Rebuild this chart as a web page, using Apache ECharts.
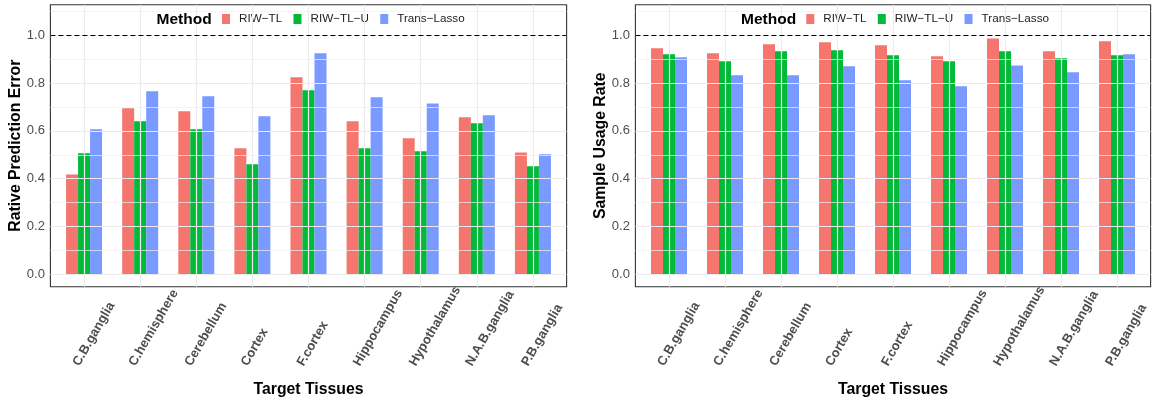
<!DOCTYPE html>
<html>
<head>
<meta charset="utf-8">
<script src="https://cdn.jsdelivr.net/npm/echarts@6/dist/echarts.min.js"></script>
<style>
html,body{margin:0;padding:0;background:#fff;}
#main{width:1157px;height:401px;}
</style>
</head>
<body>
<div id="main"></div>
<script>
// ---- data ----
const categories = ['C.B.ganglia','C.hemisphere','Cerebellum','Cortex','F.cortex','Hippocampus','Hypothalamus','N.A.B.ganglia','P.B.ganglia'];
const methods = ['RIW\u2212TL','RIW\u2212TL\u2212U','Trans\u2212Lasso'];
const errRIWTL     = [0.418, 0.695, 0.682, 0.527, 0.824, 0.640, 0.569, 0.657, 0.510];
const errRIWTLU    = [0.506, 0.640, 0.607, 0.460, 0.770, 0.527, 0.515, 0.632, 0.452];
const errTransLasso= [0.607, 0.766, 0.745, 0.661, 0.925, 0.741, 0.715, 0.665, 0.502];
const useRIWTL     = [0.946, 0.925, 0.962, 0.971, 0.958, 0.912, 0.987, 0.933, 0.975];
const useRIWTLU    = [0.921, 0.891, 0.933, 0.937, 0.916, 0.891, 0.933, 0.904, 0.916];
const useTransLasso= [0.908, 0.833, 0.833, 0.870, 0.812, 0.787, 0.874, 0.845, 0.921];
const yTicks = [0, 0.2, 0.4, 0.6, 0.8, 1.0];
const yMinorTicks = [0.1, 0.3, 0.5, 0.7, 0.9, 1.1];
const refLine = 1.0;
const yTitles = ['Rative Prediction Error', 'Sample Usage Rate'];
const xTitle = 'Target Tissues';
const legendTitle = 'Method';

// ---- styling ----
const colors = ['#F4766E', '#00BA38', '#7A9AFF'];
const panels = [
  {series: [errRIWTL, errRIWTLU, errTransLasso], left: 50.4, right: 590.4, legendLeft: 150, titleLeft: 156.5},
  {series: [useRIWTL, useRIWTLU, useTransLasso], left: 635.4, right: 6.4, legendLeft: 734.3, titleLeft: 741}
];
const catIdx = categories.map((c, i) => i);
const FONT = 'Liberation Sans, Arial, Helvetica, sans-serif';

const option = {
  animation: false,
  textStyle: {fontFamily: FONT},
  title: panels.map(p => ({
    text: legendTitle, left: p.titleLeft, top: 11, padding: 0, z: 10,
    textStyle: {fontSize: 15.5, fontWeight: 'bold', color: '#000', lineHeight: 18, fontFamily: FONT}
  })),
  legend: panels.map(p => ({
    data: methods, left: p.legendLeft, top: 6, orient: 'horizontal',
    padding: [6, 8, 6, 72], backgroundColor: '#fff',
    icon: 'rect', itemWidth: 8, itemHeight: 10, itemGap: 11.3, selectedMode: false,
    textStyle: {fontSize: 11.7, color: '#222', padding: [0, 0, 0, 4], lineHeight: 14, fontFamily: FONT}
  })),
  grid: panels.map(p => ({
    left: p.left, right: p.right, top: 4.7, bottom: 114.3,
    show: true, borderColor: '#333', borderWidth: 1.1, backgroundColor: '#fff',
    containLabel: false, outerBoundsMode: 'none'
  })),
  xAxis: panels.map((p, g) => ({
    type: 'value', gridIndex: g, min: -0.6, max: 8.6,
    name: xTitle, nameLocation: 'middle', nameGap: 95, nameMoveOverlap: false,
    nameTextStyle: {fontSize: 15.8, fontWeight: 'bold', color: '#000', fontFamily: FONT},
    axisLine: {show: false}, splitLine: {show: false},
    axisTick: {show: true, customValues: catIdx, length: 4, lineStyle: {color: '#333', width: 1}},
    axisLabel: {
      customValues: catIdx, formatter: v => categories[Math.round(v)],
      rotate: 60, align: 'left', verticalAlign: 'bottom', lineHeight: 18.5, margin: 83,
      fontSize: 13, fontWeight: 'bold', color: '#4D4D4D', fontFamily: FONT
    }
  })),
  yAxis: panels.map((p, g) => ({
    type: 'value', gridIndex: g, min: -0.052, max: 1.128,
    name: yTitles[g], nameLocation: 'middle', nameGap: 27, nameMoveOverlap: false,
    nameTextStyle: {fontSize: 15.8, fontWeight: 'bold', color: '#000', fontFamily: FONT},
    axisLine: {show: false}, splitLine: {show: false},
    axisTick: {show: true, customValues: yTicks, length: 4, lineStyle: {color: '#333', width: 1}},
    axisLabel: {customValues: yTicks, formatter: v => v.toFixed(1), fontSize: 13, color: '#4D4D4D', margin: 5.5, fontFamily: FONT}
  })),
  series: []
};

panels.forEach((p, g) => {
  const gridData = [];
  yMinorTicks.forEach(v => gridData.push({yAxis: v, lineStyle: {color: '#F0F0F0', width: 0.7, type: 'solid'}}));
  yTicks.forEach(v => gridData.push({yAxis: v, lineStyle: {color: '#EBEBEB', width: 1.2, type: 'solid'}}));
  catIdx.forEach(v => gridData.push({xAxis: v, lineStyle: {color: '#EBEBEB', width: 1.2, type: 'solid'}}));
  option.series.push({
    type: 'line', name: 'grid' + g, xAxisIndex: g, yAxisIndex: g, data: [], z: 1, silent: true,
    markLine: {silent: true, symbol: ['none', 'none'], label: {show: false}, animation: false, data: gridData}
  });
  methods.forEach((m, k) => {
    option.series.push({
      type: 'bar', name: m, xAxisIndex: g, yAxisIndex: g,
      data: p.series[k].map((v, i) => [i, v]),
      barWidth: 12, barGap: '0%', z: 3,
      itemStyle: {color: colors[k], borderWidth: 0}
    });
  });
  option.series.push({
    type: 'line', name: 'ref' + g, xAxisIndex: g, yAxisIndex: g, data: [], z: 4, silent: true,
    markLine: {silent: true, symbol: ['none', 'none'], label: {show: false}, animation: false,
      data: [{yAxis: refLine, lineStyle: {color: '#000', width: 1.2, type: [5, 3]}}]}
  });
});

const chart = echarts.init(document.getElementById('main'), null, {renderer: 'canvas'});
chart.setOption(option);
</script>
</body>
</html>
